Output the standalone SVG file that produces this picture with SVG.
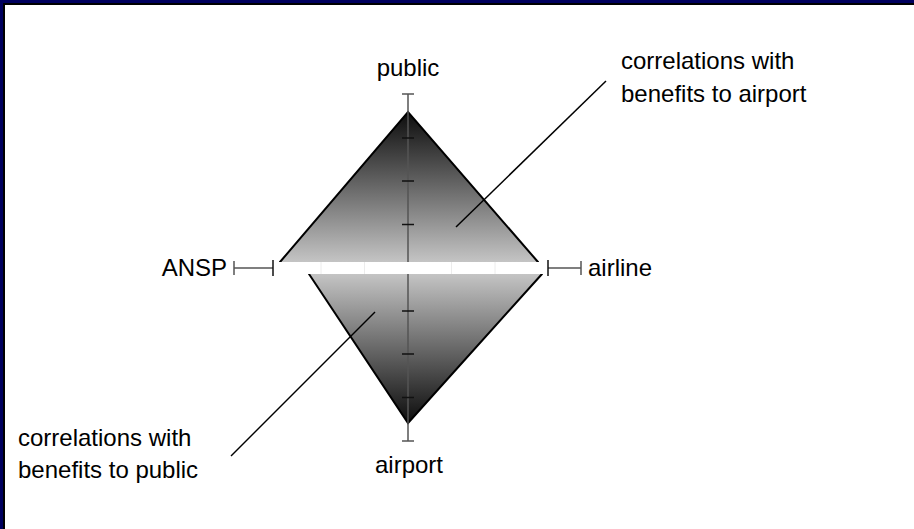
<svg xmlns="http://www.w3.org/2000/svg" width="914" height="529" viewBox="0 0 914 529">
  <defs>
    <linearGradient id="gradUp" x1="0" y1="112" x2="0" y2="262" gradientUnits="userSpaceOnUse">
      <stop offset="0" stop-color="#0c0c0c"/>
      <stop offset="1" stop-color="#c4c4c4"/>
    </linearGradient>
    <linearGradient id="gradDown" x1="0" y1="274" x2="0" y2="423" gradientUnits="userSpaceOnUse">
      <stop offset="0" stop-color="#c4c4c4"/>
      <stop offset="1" stop-color="#0c0c0c"/>
    </linearGradient>
    <style>
      .lbl { font-family: "Liberation Sans", Arial, sans-serif; font-size: 24px; fill: #000; }
      .axis { stroke: #555; stroke-width: 1.5; fill: none; }
      .tick { stroke: #111; stroke-width: 1.5; fill: none; }
      .edge { stroke: #000; stroke-width: 2; fill: none; stroke-linecap: round; }
      .leader { stroke: #000; stroke-width: 1.5; fill: none; }
      .faint { stroke: #ececec; stroke-width: 1; }
    </style>
  </defs>

  <!-- page background and frame -->
  <rect x="0" y="0" width="914" height="529" fill="#fff"/>
  <rect x="0" y="0" width="914" height="3" fill="#00005e"/>
  <rect x="0" y="0" width="3" height="529" fill="#00005e"/>
  <rect x="3" y="3" width="911" height="2" fill="#000"/>
  <rect x="3" y="3" width="2" height="526" fill="#000"/>

  <!-- upper shaded region -->
  <g id="region-upper">
    <polygon points="408,112 538,262 280,262" fill="url(#gradUp)"/>
    <path class="edge" d="M280,262 L408,112 L538,262"/>
  </g>

  <!-- lower shaded region -->
  <g id="region-lower">
    <polygon points="309,274 542,274 408,423" fill="url(#gradDown)"/>
    <path class="edge" d="M309,274 L408,423 L542,274"/>
  </g>

  <!-- axes -->
  <g id="axes">
    <line class="axis" x1="408" y1="94" x2="408" y2="441"/>
    <line class="axis" x1="402" y1="94" x2="414" y2="94"/>
    <line class="axis" x1="402" y1="441" x2="414" y2="441"/>
    <line class="tick" x1="402" y1="138" x2="414" y2="138"/>
    <line class="tick" x1="402" y1="181" x2="414" y2="181"/>
    <line class="tick" x1="402" y1="224.5" x2="414" y2="224.5"/>
    <line class="tick" x1="402" y1="311" x2="414" y2="311"/>
    <line class="tick" x1="402" y1="354" x2="414" y2="354"/>
    <line class="tick" x1="402" y1="397.5" x2="414" y2="397.5"/>

    <!-- white separating band across the middle -->
    <rect x="276" y="262" width="270" height="12" fill="#fff"/>
    <line class="faint" x1="321" y1="262" x2="321" y2="274"/>
    <line class="faint" x1="364.5" y1="262" x2="364.5" y2="274"/>
    <line class="faint" x1="451.5" y1="262" x2="451.5" y2="274"/>
    <line class="faint" x1="495" y1="262" x2="495" y2="274"/>

    <!-- horizontal axis end pieces -->
    <line class="axis" x1="234" y1="268" x2="273" y2="268"/>
    <line class="axis" x1="234" y1="261" x2="234" y2="275"/>
    <line class="tick" x1="273" y1="260" x2="273" y2="276"/>
    <line class="axis" x1="548" y1="268" x2="581" y2="268"/>
    <line class="tick" x1="548" y1="260" x2="548" y2="276"/>
    <line class="axis" x1="581" y1="261" x2="581" y2="275"/>
  </g>

  <!-- connectors -->
  <g id="connectors">
    <line class="leader" x1="456" y1="227" x2="606" y2="81"/>
    <line class="leader" x1="375" y1="312" x2="231" y2="456"/>
  </g>

  <!-- labels -->
  <g id="label-public"><text class="lbl" x="408" y="76" text-anchor="middle">public</text></g>
  <g id="label-airport"><text class="lbl" x="409" y="473" text-anchor="middle">airport</text></g>
  <g id="label-ansp"><text class="lbl" x="227" y="276" text-anchor="end">ANSP</text></g>
  <g id="label-airline"><text class="lbl" x="588" y="276">airline</text></g>
  <g id="note-airport">
    <text class="lbl" x="621" y="69">correlations with</text>
    <text class="lbl" x="621" y="102">benefits to airport</text>
  </g>
  <g id="note-public">
    <text class="lbl" x="18" y="446">correlations with</text>
    <text class="lbl" x="18" y="478">benefits to public</text>
  </g>
</svg>
